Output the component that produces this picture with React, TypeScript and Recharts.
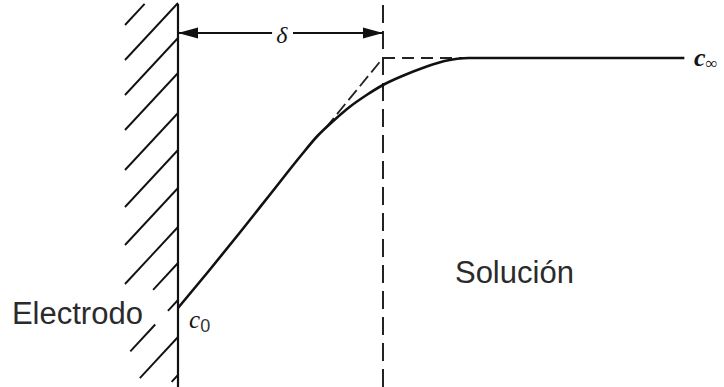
import React from 'react';
import { LineChart, Line, XAxis, YAxis, ReferenceLine, ReferenceDot } from 'recharts';

// Concentration profile near an electrode (Nernst diffusion layer).
// x: distance from the electrode surface, the layer thickness δ = 100
// y: concentration, c0 = 0 at the surface, c∞ = 100 in the bulk
const distance = [0, 15, 30, 45, 60, 68, 76, 84, 92, 100, 110, 120, 130, 142, 247];
const concentration = [0, 14.8, 30, 45.5, 61, 68.8, 75, 80.6, 85.2, 89.2, 93, 96.2, 98.8, 100, 100];

const deltaThickness = 100;
const bulkConc = 100;
const surfaceConc = 0;

// tangent construction: linear gradient from the surface reaching c∞ at δ
const tangentFrom = 72;
const plateauEnd = 140;

// hatching on the electrode side: [wall height, start fraction, end fraction]
const hatchMarks: [number, number, number][] = [
  [136, 0.63, 1], [122, 0, 1], [108, 0, 1], [94, 0, 1], [78, 0, 1],
  [63.2, 0, 1], [48, 0, 1], [32.4, 0, 1], [18, 0, 0.47],
  [3.2, 0, 0.19], [3.2, 0.43, 0.9], [-11.6, 0, 0.72], [-26.8, 0, 0.12],
];
const hatchDx = -25.85;
const hatchDy = -22.8;

const W = 724;
const H = 387;
const X_DOMAIN: [number, number] = [-86.829, 266.341];
const Y_DOMAIN: [number, number] = [-31.6, 123.2];

const INK = '#111';
const arrowY = 110;
const deltaGap: [number, number] = [45.9, 56.1];

const data = distance.map((x, i) => ({ x, c: concentration[i] }));

const arrowHead = (dir: 1 | -1) => (p: any) => {
  const { cx, cy } = p;
  const len = 20;
  const half = 5.5;
  return (
    <polygon
      points={`${cx},${cy} ${cx - dir * len},${cy - half} ${cx - dir * len},${cy + half}`}
      fill={INK}
    />
  );
};

const textMark = (content: React.ReactNode, style: React.CSSProperties, anchor: 'start' | 'middle' = 'start') =>
  (p: any) => (
    <text x={p.cx} y={p.cy} textAnchor={anchor} style={style}>
      {content}
    </text>
  );

const sans: React.CSSProperties = { fontFamily: '"Liberation Sans", Arial, sans-serif', fontSize: 31, fill: '#2b2b2b' };
const serif: React.CSSProperties = { fontFamily: '"Liberation Serif", "Times New Roman", serif', fill: '#151515' };

export default function App() {
  return (
    <div style={{ position: 'absolute', left: 0, top: 0, width: W, height: H, background: '#fff' }}>
      <LineChart width={W} height={H} data={data} margin={{ top: 0, right: 0, bottom: 0, left: 0 }}>
        <XAxis dataKey="x" type="number" domain={X_DOMAIN} allowDataOverflow hide />
        <YAxis type="number" domain={Y_DOMAIN} allowDataOverflow hide />

        {hatchMarks.map(([y0, a, b], i) => (
          <ReferenceLine
            key={`h${i}`}
            segment={[
              { x: hatchDx * a, y: y0 + hatchDy * a },
              { x: hatchDx * b, y: y0 + hatchDy * b },
            ]}
            stroke={INK}
            strokeWidth={1.9}
            ifOverflow="hidden"
          />
        ))}

        {/* electrode surface */}
        <ReferenceLine
          segment={[{ x: 0, y: 121.6 }, { x: 0, y: Y_DOMAIN[0] }]}
          stroke={INK}
          strokeWidth={2.2}
        />

        {/* outer edge of the diffusion layer */}
        <ReferenceLine x={deltaThickness} stroke="#222" strokeWidth={2} strokeDasharray="18 8" />

        {/* linear approximation */}
        <ReferenceLine
          segment={[{ x: tangentFrom, y: tangentFrom }, { x: deltaThickness, y: bulkConc }]}
          stroke="#222"
          strokeWidth={1.8}
          strokeDasharray="13 5"
        />
        <ReferenceLine
          segment={[{ x: deltaThickness, y: bulkConc }, { x: plateauEnd, y: bulkConc }]}
          stroke="#222"
          strokeWidth={1.8}
          strokeDasharray="12 7"
        />

        {/* δ dimension arrow */}
        <ReferenceLine segment={[{ x: 0, y: arrowY }, { x: deltaGap[0], y: arrowY }]} stroke={INK} strokeWidth={2} />
        <ReferenceLine segment={[{ x: deltaGap[1], y: arrowY }, { x: deltaThickness, y: arrowY }]} stroke={INK} strokeWidth={2} />
        <ReferenceDot x={0} y={arrowY} r={0} shape={arrowHead(-1)} />
        <ReferenceDot x={deltaThickness} y={arrowY} r={0} shape={arrowHead(1)} />
        <ReferenceDot x={50.6} y={106.2} r={0} shape={textMark('δ', { ...serif, fontSize: 24, fontStyle: 'italic' }, 'middle')} />

        <Line
          dataKey="c"
          type="monotone"
          stroke={INK}
          strokeWidth={2.6}
          dot={false}
          activeDot={false}
          isAnimationActive={false}
        />

        <ReferenceDot
          x={251.7}
          y={96.8}
          r={0}
          shape={textMark(
            <>
              <tspan style={{ fontSize: 26, fontWeight: 700, fontStyle: 'italic' }}>c</tspan>
              <tspan dy={3} style={{ fontSize: 17 }}>∞</tspan>
            </>,
            serif,
          )}
        />
        <ReferenceDot
          x={5.4}
          y={surfaceConc - 8}
          r={0}
          shape={textMark(
            <>
              <tspan style={{ fontSize: 25, fontStyle: 'italic' }}>c</tspan>
              <tspan dy={4} style={{ fontSize: 18, fontFamily: '"Liberation Sans", Arial, sans-serif', fill: '#333' }}>0</tspan>
            </>,
            serif,
          )}
        />
        <ReferenceDot x={-81} y={-6.4} r={0} shape={textMark('Electrodo', sans)} />
        <ReferenceDot x={135.1} y={10} r={0} shape={textMark('Solución', sans)} />
      </LineChart>
    </div>
  );
}
